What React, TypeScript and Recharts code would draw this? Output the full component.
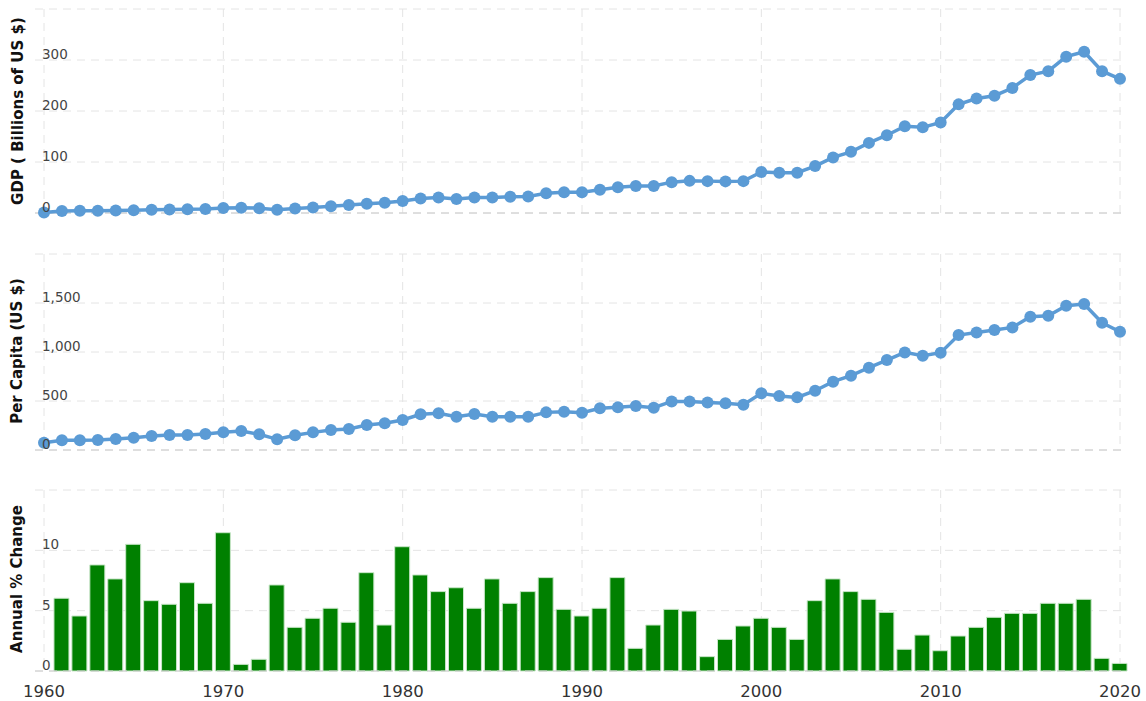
import React from "react";
import {
  LineChart,
  Line,
  BarChart,
  Bar,
  XAxis,
  YAxis,
  CartesianGrid,
  ReferenceLine,
} from "recharts";

const years = [
  1960, 1961, 1962, 1963, 1964, 1965, 1966, 1967, 1968, 1969,
  1970, 1971, 1972, 1973, 1974, 1975, 1976, 1977, 1978, 1979,
  1980, 1981, 1982, 1983, 1984, 1985, 1986, 1987, 1988, 1989,
  1990, 1991, 1992, 1993, 1994, 1995, 1996, 1997, 1998, 1999,
  2000, 2001, 2002, 2003, 2004, 2005, 2006, 2007, 2008, 2009,
  2010, 2011, 2012, 2013, 2014, 2015, 2016, 2017, 2018, 2019,
  2020,
];

// GDP, billions of US $
const gdp = [
  1, 4, 4.2, 4.5, 5, 5.5, 6.5, 7, 7.5, 8,
  9.8, 10.3, 9.5, 6.3, 8.7, 11, 13.3, 15.5, 18, 20,
  23.5, 28.5, 30.5, 27.5, 30.5, 30.5, 32, 32.5, 38.5, 40.5,
  40.5, 45.5, 50.5, 53, 53, 60.5, 63, 62.5, 62, 62.5,
  80.5, 79, 79, 92, 109, 120, 137.5, 152.5, 170, 168,
  177.5, 213, 224.5, 230, 245, 270.5, 278, 306.5, 316, 278,
  263,
];

// GDP per capita, US $
const perCapita = [
  74, 100, 100, 102, 112, 126, 143, 153, 153, 163,
  180, 194, 160, 109, 150, 180, 204, 214, 255, 272,
  306, 364, 374, 340, 367, 340, 340, 340, 384, 391,
  381, 425, 435, 449, 432, 496, 496, 484, 476, 462,
  578, 552, 537, 605, 697, 758, 840, 918, 996, 962,
  993, 1173, 1200, 1224, 1251, 1360, 1370, 1472, 1489, 1298,
  1207,
];

// annual % change, 1961-2020 (none for 1960)
const growth = [
  null, 6.03, 4.56, 8.79, 7.63, 10.5, 5.83, 5.53, 7.32, 5.61,
  11.46, 0.55, 0.97, 7.13, 3.62, 4.37, 5.2, 4.04, 8.15, 3.81,
  10.3, 7.96, 6.58, 6.9, 5.2, 7.63, 5.61, 6.58, 7.74, 5.11,
  4.56, 5.2, 7.74, 1.88, 3.81, 5.11, 4.97, 1.19, 2.62, 3.73,
  4.37, 3.62, 2.62, 5.83, 7.63, 6.58, 5.94, 4.86, 1.8, 2.98,
  1.68, 2.9, 3.62, 4.45, 4.78, 4.78, 5.61, 5.61, 5.94, 1.05,
  0.63,
];

const xTicks = [1960, 1970, 1980, 1990, 2000, 2010, 2020];
const gdpTicks = [0, 100, 200, 300, 400];
const capitaTicks = [0, 500, 1000, 1500, 2000];
const growthTicks = [0, 5, 10, 15];

const data = years.map((year, i) => ({
  year,
  gdp: gdp[i],
  perCapita: perCapita[i],
  growth: growth[i],
}));

const FONT = "'DejaVu Sans', Verdana, sans-serif";
const BLUE = "#5b9bd5";
const GRID = "#e4e4e4";
const W = 1146;
const MARGIN_X = { left: 34, right: 19 };
const X_PAD = { left: 9, right: 7 };

const noTick = () => <g />;

function makeTick(hideValue: number) {
  return (props: any) => {
    const { y, payload } = props;
    if (payload.value === hideValue) return <g />;
    return (
      <text x={42} y={y - 1} fontSize={13.5} fill="#444" fontFamily={FONT}>
        {payload.value.toLocaleString("en-US")}
      </text>
    );
  };
}

// recharts clones the label with its own x/y, so use other prop names
function AxisTitle({ text, posX, posY }: { text: string; posX: number; posY: number }) {
  return (
    <text
      transform={`translate(${posX},${posY}) rotate(-90)`}
      textAnchor="middle"
      dominantBaseline="middle"
      fontSize={15}
      fontWeight="bold"
      fill="#111"
      fontFamily={FONT}
    >
      {text}
    </text>
  );
}

const dotStyle = { r: 6, fill: BLUE, stroke: BLUE, strokeWidth: 0 };

export default function App() {
  return (
    <div style={{ position: "absolute", left: 0, top: 0, width: W, height: 701, background: "#fff" }}>
      {/* GDP */}
      <div style={{ position: "absolute", left: 0, top: 0 }}>
        <LineChart width={W} height={230} data={data} margin={{ top: 9, bottom: 16, ...MARGIN_X }}>
          <CartesianGrid stroke={GRID} strokeDasharray="8 6" syncWithTicks />
          <XAxis
            dataKey="year"
            type="number"
            domain={[1960, 2020]}
            ticks={xTicks}
            interval={0}
            padding={X_PAD}
            height={1}
            tick={noTick}
            axisLine={false}
            tickLine={false}
          />
          <YAxis
            domain={[0, 400]}
            ticks={gdpTicks}
            interval={0}
            width={1}
            axisLine={false}
            tickLine={false}
            tick={makeTick(400)}
            label={<AxisTitle text="GDP ( Billions of US $)" posX={18} posY={111} />}
          />
          <ReferenceLine y={0} stroke="#cccccc" strokeDasharray="8 6" />
          <Line
            dataKey="gdp"
            stroke={BLUE}
            strokeWidth={3.5}
            dot={dotStyle}
            isAnimationActive={false}
          />
        </LineChart>
      </div>

      {/* Per capita */}
      <div style={{ position: "absolute", left: 0, top: 240 }}>
        <LineChart width={W} height={230} data={data} margin={{ top: 14, bottom: 19, ...MARGIN_X }}>
          <CartesianGrid stroke={GRID} strokeDasharray="8 6" syncWithTicks />
          <XAxis
            dataKey="year"
            type="number"
            domain={[1960, 2020]}
            ticks={xTicks}
            interval={0}
            padding={X_PAD}
            height={1}
            tick={noTick}
            axisLine={false}
            tickLine={false}
          />
          <YAxis
            domain={[0, 2000]}
            ticks={capitaTicks}
            interval={0}
            width={1}
            axisLine={false}
            tickLine={false}
            tick={makeTick(2000)}
            label={<AxisTitle text="Per Capita (US $)" posX={17} posY={111} />}
          />
          <ReferenceLine y={0} stroke="#cccccc" strokeDasharray="8 6" />
          <Line
            dataKey="perCapita"
            stroke={BLUE}
            strokeWidth={3.5}
            dot={dotStyle}
            isAnimationActive={false}
          />
        </LineChart>
      </div>

      {/* Annual % change */}
      <div style={{ position: "absolute", left: 0, top: 470 }}>
        <BarChart width={W} height={231} data={data} margin={{ top: 20, bottom: 0, ...MARGIN_X }}>
          <CartesianGrid stroke={GRID} strokeDasharray="8 6" syncWithTicks />
          <XAxis
            dataKey="year"
            type="number"
            domain={[1960, 2020]}
            ticks={xTicks}
            interval={0}
            padding={X_PAD}
            height={30}
            axisLine={false}
            tickLine={false}
            tickMargin={8}
            tick={{ fontSize: 16.5, fill: "#333", fontFamily: FONT }}
          />
          <YAxis
            domain={[0, 15]}
            ticks={growthTicks}
            interval={0}
            width={1}
            axisLine={false}
            tickLine={false}
            tick={makeTick(15)}
            label={<AxisTitle text="Annual % Change" posX={17} posY={109} />}
          />
          <ReferenceLine y={0} stroke="#cccccc" strokeDasharray="8 6" />
          <Bar
            dataKey="growth"
            fill="#008000"
            stroke="#c8e6c8"
            strokeWidth={1}
            barSize={15}
            isAnimationActive={false}
          />
        </BarChart>
      </div>
    </div>
  );
}
